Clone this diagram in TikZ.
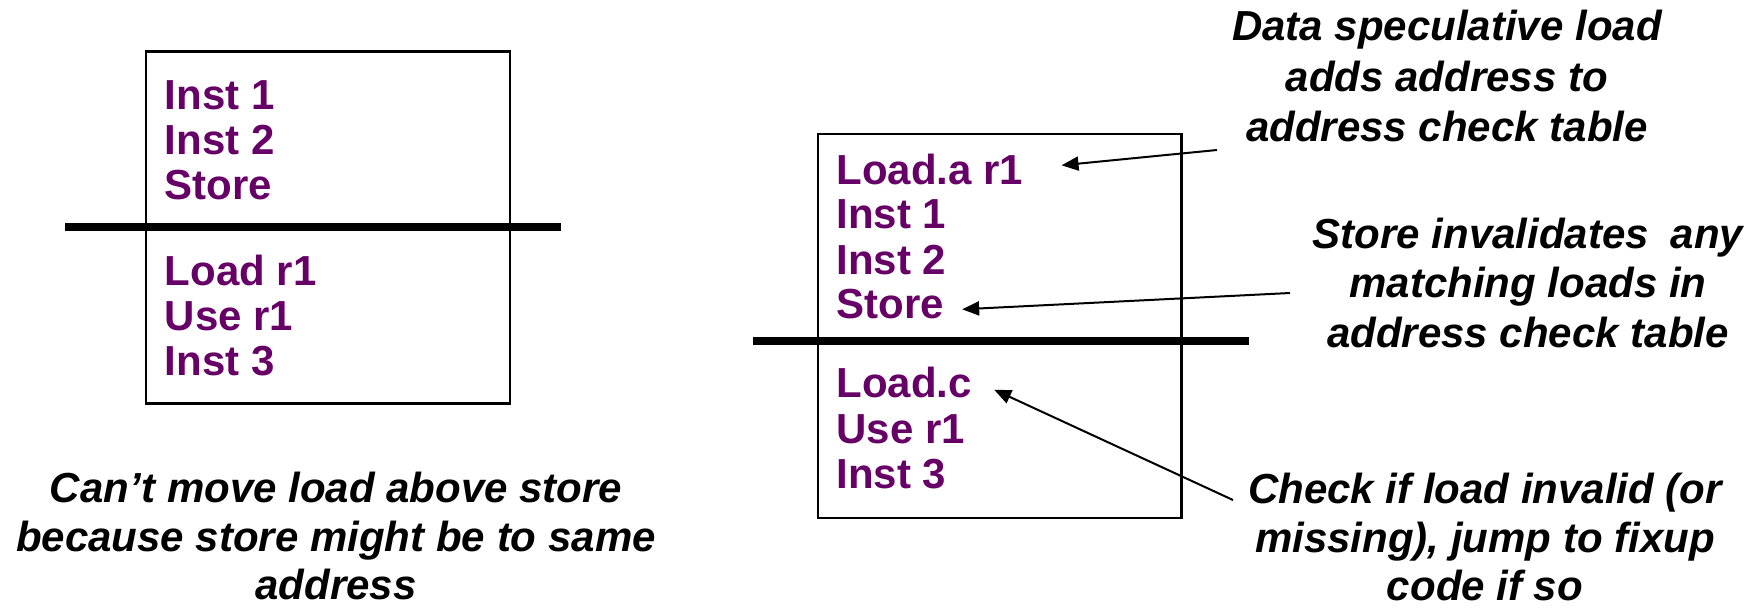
\documentclass[tikz,border=0pt]{standalone}
\usepackage{fontspec}
\setmainfont{Liberation Sans}
\usetikzlibrary{arrows.meta}
\definecolor{instpurple}{RGB}{102,0,102}
\begin{document}
\begin{tikzpicture}[x=1pt,y=-1pt,
  inst/.style={anchor=base west,inner sep=0pt,text=instpurple,font=\fontsize{42}{45}\selectfont\bfseries},
  note/.style={anchor=base,inner sep=0pt,font=\fontsize{42}{50}\selectfont\bfseries\itshape},
  frame/.style={draw=black,line width=2.5pt,inner sep=0pt,anchor=north west},
  barrier/.style={draw=black,line width=8pt},
  arr/.style={draw=black,line width=2pt,-{Triangle[length=17pt,width=14pt]}}]
\useasboundingbox (0,0) rectangle (1757,608);

% ---------- left block ----------
\node[frame,minimum width=363.8pt,minimum height=352.3pt] (lbox) at (144.7,50) {};
\draw[barrier] (65,226.7) -- (561.4,226.7);
\node[inst] (li1) at (164.6,109) {Inst 1};
\node[inst] (li2) at (164.6,154) {Inst 2};
\node[inst] (lst) at (164.6,199) {Store};
\node[inst] (lld) at (164.6,285) {Load r1};
\node[inst] (lus) at (164.6,330) {Use r1};
\node[inst] (li3) at (164.6,375) {Inst 3};

\node[note] (cap1) at (336,502) {Can’t move load above store};
\node[note] (cap2) at (336,551) {because store might be to same};
\node[note] (cap3) at (336,599) {address};

% ---------- right block ----------
\node[frame,minimum width=363.2pt,minimum height=384pt] (rbox) at (816.8,132.7) {};
\draw[barrier] (753.2,340.7) -- (1248.9,340.7);
\node[inst] (rla) at (836.4,184.3) {Load.a r1};
\node[inst] (ri1) at (836.4,228.3) {Inst 1};
\node[inst] (ri2) at (836.4,274) {Inst 2};
\node[inst] (rst) at (836.4,318.3) {Store};
\node[inst] (rlc) at (836.4,397.7) {Load.c};
\node[inst] (rus) at (836.4,443.3) {Use r1};
\node[inst] (ri3) at (836.4,488.3) {Inst 3};

\node[note] (c1a) at (1447,40) {Data speculative load};
\node[note] (c1b) at (1447,91) {adds address to};
\node[note] (c1c) at (1447,141) {address check table};

\node[note] (c2a) at (1528,248) {Store invalidates\hspace{0.25em} any};
\node[note] (c2b) at (1528,297) {matching loads in};
\node[note] (c2c) at (1528,347) {address check table};

\node[note] (c3a) at (1485,503) {Check if load invalid (or};
\node[note] (c3b) at (1485,552) {missing), jump to fixup};
\node[note] (c3c) at (1485,600) {code if so};

% ---------- arrow tails (free ends beside the notes) ----------
\coordinate (t1) at (1217,150);
\coordinate (t2) at (1290,293);
\coordinate (t3) at (1233,500);

% ---------- arrows ----------
\draw[arr] (t1) -- ([shift={(38,-19)}]rla.base east);
\draw[arr] (t2) -- ([shift={(18,-9)}]rst.base east);
\draw[arr] (t3) -- ([shift={(22,-8)}]rlc.base east);
\end{tikzpicture}
\end{document}
